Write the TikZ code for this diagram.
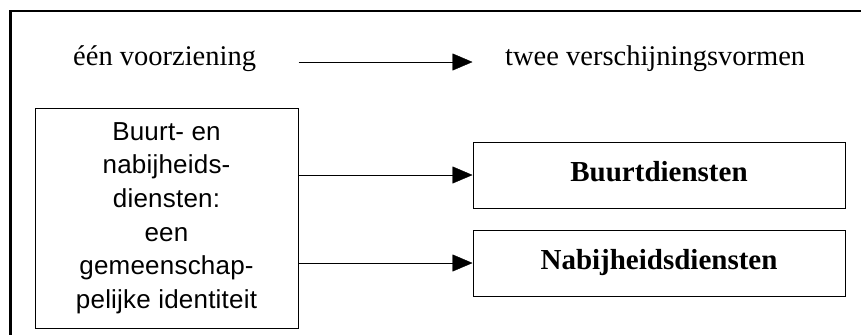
\documentclass[tikz,border=0pt]{standalone}
\usepackage{fontspec}
\setmainfont{Liberation Serif}
\newfontfamily\boxfont[LetterSpace=0.8]{Liberation Sans}
\usetikzlibrary{arrows.meta}

\begin{document}
\begin{tikzpicture}[x=1pt, y=-1pt,
    >={Triangle[length=20pt,width=17pt]},
    every node/.style={font=\fontsize{28.5}{34}\selectfont},
    vorm/.style={draw, line width=1pt, minimum width=372pt, minimum height=66pt,
        inner sep=0pt, font=\fontsize{29}{34}\selectfont\bfseries,
        text height=18pt, text depth=6pt},
    ]
    \useasboundingbox (0,0) rectangle (861,335);
    \draw[line width=2.5pt] (861,11) -- (10.5,11) -- (10.5,335);

    \node[anchor=base west, inner sep=0pt] (een) at (73,65) {één voorziening};
    \node[anchor=base west, inner sep=0pt] (twee) at (505,65) {twee verschijningsvormen};
    \node[draw, line width=1pt, minimum width=263pt, minimum height=220pt, align=center,
        inner sep=0pt, font=\boxfont\fontsize{26}{33.6}\selectfont] (bron) at (166.5,218)
        {Buurt- en\\nabijheids-\\diensten:\\een\\gemeenschap-\\pelijke identiteit};
    \node[vorm] (buurt) at (659,175) {Buurtdiensten};
    \node[vorm] (nabij) at (659,263) {Nabijheidsdiensten};

    \draw[->] ([yshift=3pt]een.base -| bron.east) -- ([yshift=3pt]een.base -| buurt.west);
    \draw[->] (bron.east |- buurt.west) -- (buurt.west);
    \draw[->] (bron.east |- nabij.west) -- (nabij.west);
\end{tikzpicture}
\end{document}
